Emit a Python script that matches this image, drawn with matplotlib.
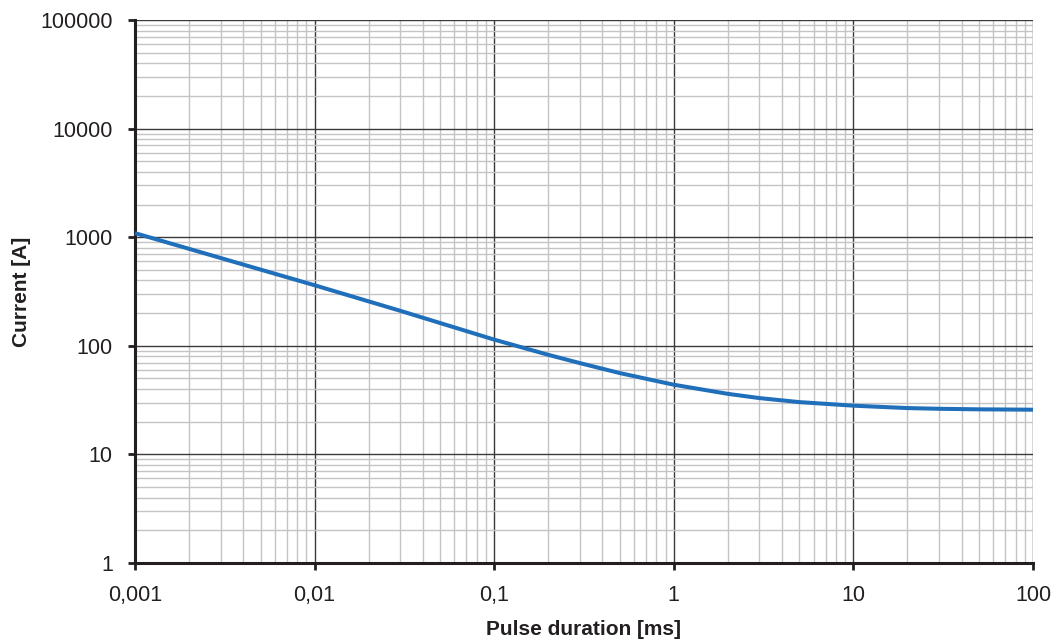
import matplotlib
matplotlib.use("Agg")
import matplotlib.pyplot as plt
from matplotlib.ticker import FixedLocator, FixedFormatter, LogLocator, NullFormatter

plt.rcParams['font.family'] = ['Liberation Sans', 'DejaVu Sans']

# Data
pulse_ms = [0.001, 0.003, 0.01, 0.03, 0.1, 0.2, 0.3, 0.5, 1, 2, 3, 5, 10, 20, 30, 50, 100]
current_a = [1090, 643, 361, 210, 114, 82.6, 69.3, 56.1, 43.8, 36.1, 33.0, 30.3, 28.1, 26.7, 26.3, 26.0, 25.8]

x_ticks = [0.001, 0.01, 0.1, 1, 10, 100]
x_labels = ["0,001", "0,01", "0,1", "1", "10", "100"]
y_ticks = [1, 10, 100, 1000, 10000, 100000]
y_labels = ["1", "10", "100", "1000", "10000", "100000"]

fig = plt.figure(figsize=(10.54, 6.39), dpi=100)
ax = fig.add_axes([135/1054, 1 - 563/639, (1033-135)/1054, (563-20)/639])

ax.set_xscale('log')
ax.set_yscale('log')
ax.set_xlim(0.001, 100)
ax.set_ylim(1, 100000)

ax.xaxis.set_major_locator(FixedLocator(x_ticks))
ax.xaxis.set_major_formatter(FixedFormatter(x_labels))
ax.yaxis.set_major_locator(FixedLocator(y_ticks))
ax.yaxis.set_major_formatter(FixedFormatter(y_labels))
ax.xaxis.set_minor_locator(LogLocator(base=10, subs=range(2, 10), numticks=20))
ax.yaxis.set_minor_locator(LogLocator(base=10, subs=range(2, 10), numticks=20))
ax.xaxis.set_minor_formatter(NullFormatter())
ax.yaxis.set_minor_formatter(NullFormatter())

ax.grid(which='minor', color='#c4c4c6', linewidth=1.0)
ax.grid(which='major', color='#3a3a3a', linewidth=1.0)
ax.set_axisbelow(True)

ax.plot(pulse_ms, current_a, color='#1f6fba', linewidth=2.9, solid_capstyle='butt',
        solid_joinstyle='round', zorder=3, clip_on=False)

for s in ['top', 'right']:
    ax.spines[s].set_visible(False)
for s in ['left', 'bottom']:
    ax.spines[s].set_linewidth(2.2)
    ax.spines[s].set_color('#231f20')

ax.tick_params(which='major', direction='out', length=5, width=2, color='#231f20',
               labelsize=15.5, labelcolor='#231f20')
ax.tick_params(which='minor', length=0)
ax.tick_params(axis='y', pad=11)
ax.tick_params(axis='x', pad=11)

ax.set_xlabel('Pulse duration [ms]', fontsize=15, fontweight='bold', color='#231f20', labelpad=10)
ax.set_ylabel('Current [A]', fontsize=15, fontweight='bold', color='#231f20')
ax.yaxis.set_label_coords(-0.116, 0.5)

fig.savefig('out.png', dpi=100)
